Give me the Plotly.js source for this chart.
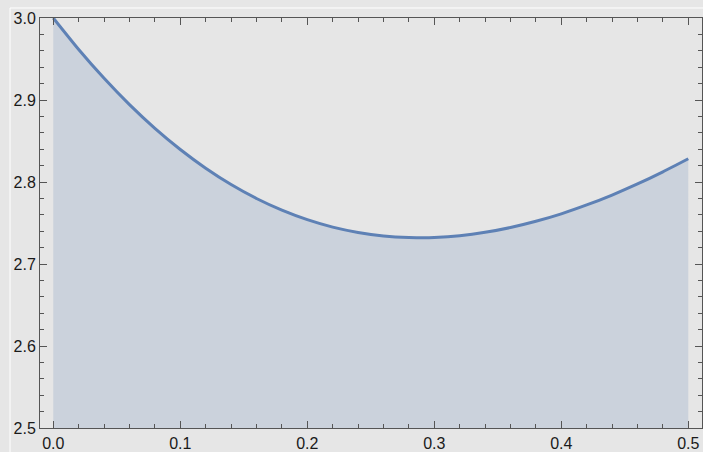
<!DOCTYPE html>
<html>
<head>
<meta charset="utf-8">
<script src="https://cdn.plot.ly/plotly-3.0.1.min.js"></script>
<style>
  html, body { margin: 0; padding: 0; background: #e6e6e6; }
  #chart { width: 703px; height: 452px; }
</style>
</head>
<body>
<div id="chart"></div>
<script>
// x positions and curve values
const xValues = [0.00, 0.02, 0.04, 0.06, 0.08, 0.10, 0.12, 0.14, 0.16, 0.18, 0.20, 0.22, 0.24,
                 0.26, 0.28, 0.29, 0.30, 0.32, 0.34, 0.36, 0.38, 0.40, 0.42, 0.44, 0.46, 0.48, 0.50];
const yValues = [3.0000, 2.9616, 2.9264, 2.8943, 2.8654, 2.8396, 2.8168, 2.7969, 2.7799, 2.7657, 2.7541, 2.7450, 2.7385,
                 2.7342, 2.7322, 2.7321, 2.7324, 2.7345, 2.7386, 2.7445, 2.7521, 2.7612, 2.7720, 2.7841, 2.7976, 2.8124, 2.8284];
const xTicks = [0.0, 0.1, 0.2, 0.3, 0.4, 0.5];
const xTickLabels = ["0.0", "0.1", "0.2", "0.3", "0.4", "0.5"];
const yTicks = [2.5, 2.6, 2.7, 2.8, 2.9, 3.0];
const yTickLabels = ["2.5", "2.6", "2.7", "2.8", "2.9", "3.0"];

const frameColor = '#555555';
const tickFont = { family: 'Liberation Sans', size: 16, color: '#1a1a1a' };

const trace = {
  x: xValues,
  y: yValues,
  type: 'scatter',
  mode: 'lines',
  line: { color: '#5E81B5', width: 3, shape: 'spline', smoothing: 0.6 },
  fill: 'tozeroy',
  fillcolor: 'rgba(94,129,181,0.2)',
  hoverinfo: 'skip'
};

const axisCommon = {
  showgrid: false,
  zeroline: false,
  showline: true,
  linecolor: frameColor,
  linewidth: 1,
  mirror: 'ticks',
  ticks: 'inside',
  ticklen: 7,
  tickwidth: 1,
  tickcolor: frameColor,
  tickfont: tickFont,
  tickmode: 'array'
};

const layout = {
  width: 703,
  height: 452,
  margin: { l: 40, r: 1, t: 18, b: 24, pad: 0 },
  paper_bgcolor: '#e6e6e6',
  plot_bgcolor: '#e6e6e6',
  showlegend: false,
  xaxis: Object.assign({}, axisCommon, {
    range: [-0.01047, 0.5108],
    tickvals: xTicks,
    ticktext: xTickLabels,
    ticklabelstandoff: 1,
    minor: { dtick: 0.02, tick0: 0, ticks: 'inside', ticklen: 4, tickcolor: frameColor, tickwidth: 1, showgrid: false }
  }),
  yaxis: Object.assign({}, axisCommon, {
    range: [2.5, 3.0],
    tickvals: yTicks,
    ticktext: yTickLabels,
    minor: { dtick: 0.02, tick0: 2.5, ticks: 'inside', ticklen: 4, tickcolor: frameColor, tickwidth: 1, showgrid: false }
  }),
  shapes: [
    { type: 'line', xref: 'paper', yref: 'paper', x0: -0.0453, x1: -0.0453, y0: 1.0244, y1: -0.2,
      line: { color: '#ffffff', width: 1 } },
    { type: 'line', xref: 'paper', yref: 'paper', x0: -0.0453, x1: 1.1, y0: 1.0244, y1: 1.0244,
      line: { color: '#ffffff', width: 1 } }
  ]
};

Plotly.newPlot('chart', [trace], layout, { displayModeBar: false, staticPlot: true });
</script>
</body>
</html>
